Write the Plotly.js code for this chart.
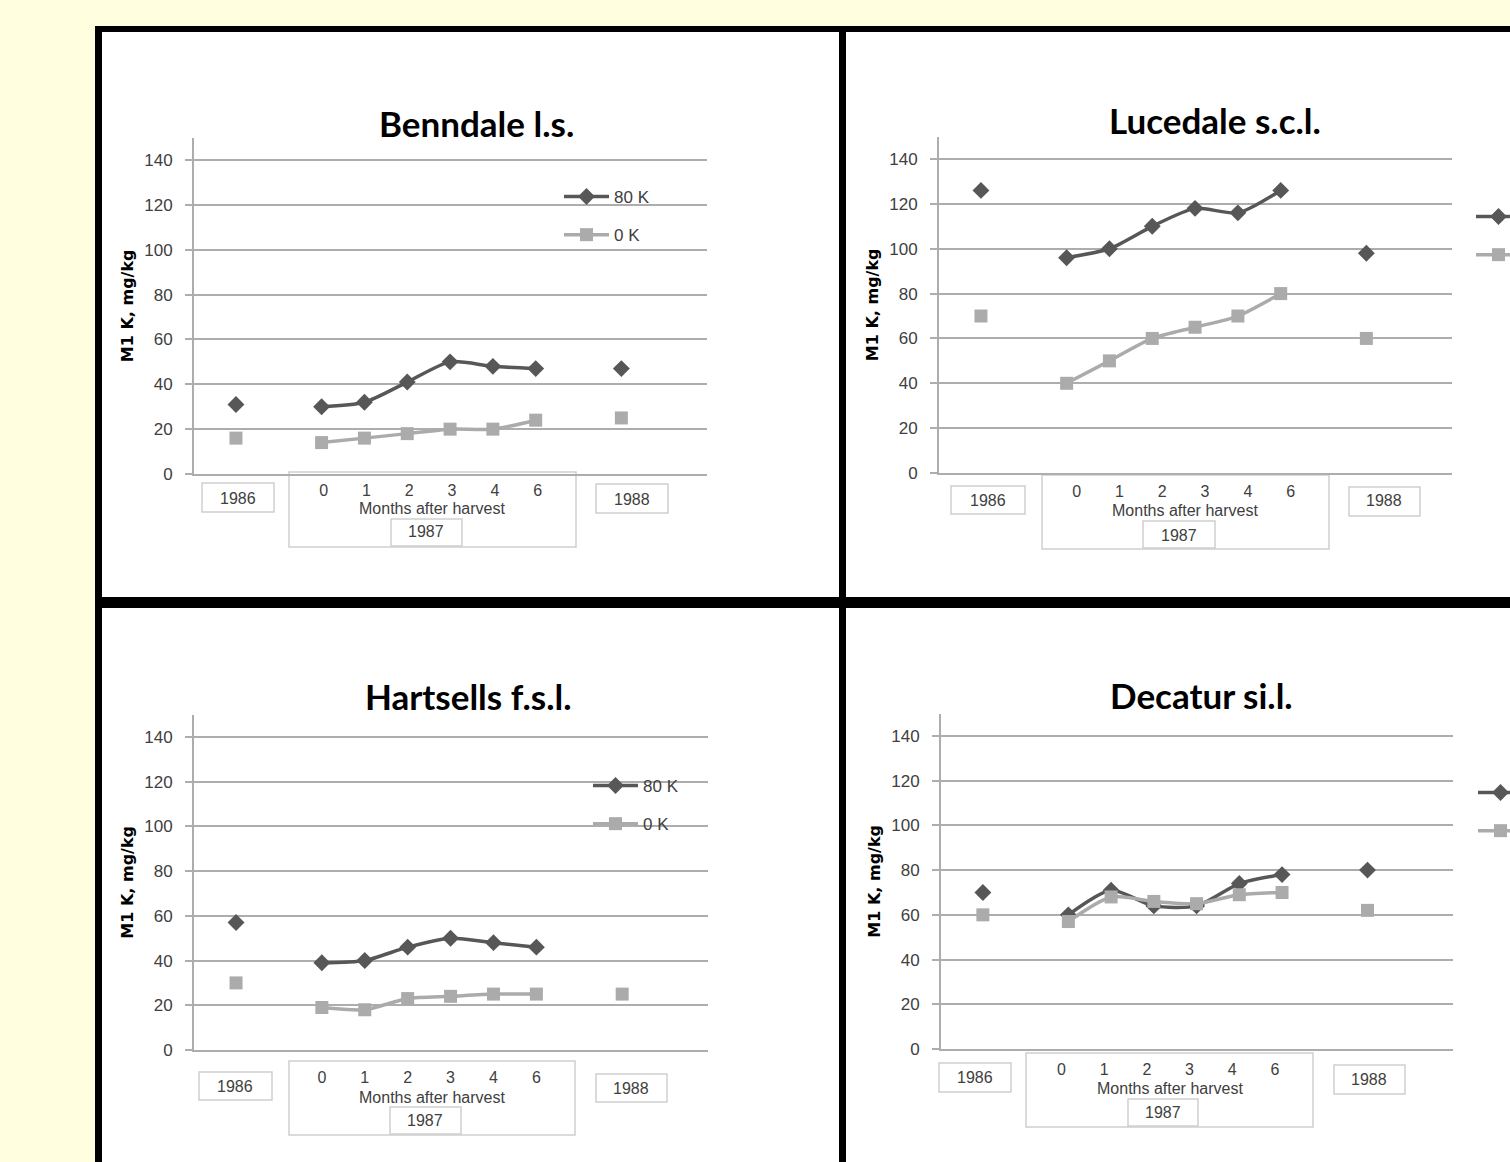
<!DOCTYPE html>
<html><head><meta charset="utf-8">
<script src="https://cdn.plot.ly/plotly-3.0.1.min.js"></script>
<style>html,body{margin:0;padding:0;background:#FFFFE0;}#chart{width:1510px;height:1162px;}</style>
</head><body><div id="chart"></div>
<script>
// ---------------- DATA ----------------
const soils = ['Benndale l.s.', 'Lucedale s.c.l.', 'Hartsells f.s.l.', 'Decatur si.l.'];
const seriesNames = ['80 K', '0 K'];
const monthLabels = ['0', '1', '2', '3', '4', '6'];
const yearLabels = ['1986', '1987', '1988'];
const xAxisLabel = 'Months after harvest';
const yAxisLabel = 'M1 K, mg/kg';
const yTicks = [0, 20, 40, 60, 80, 100, 120, 140];
// values: 1986, months 0,1,2,3,4,6 (1987), 1988
const benndale80K  = [31, 30, 32, 41, 50, 48, 47, 47];
const benndale0K   = [16, 14, 16, 18, 20, 20, 24, 25];
const lucedale80K  = [126, 96, 100, 110, 118, 116, 126, 98];
const lucedale0K   = [70, 40, 50, 60, 65, 70, 80, 60];
const hartsells80K = [57, 39, 40, 46, 50, 48, 46, null];
const hartsells0K  = [30, 19, 18, 23, 24, 25, 25, 25];
const decatur80K   = [70, 60, 71, 64, 64, 74, 78, 80];
const decatur0K    = [60, 57, 68, 66, 65, 69, 70, 62];
const soilSeries = [
  [benndale80K, benndale0K],
  [lucedale80K, lucedale0K],
  [hartsells80K, hartsells0K],
  [decatur80K, decatur0K]
];

// ---------------- LAYOUT GEOMETRY (pixels) ----------------
const W = 1510, H = 1162;
const px = v => v / W;
const py = v => 1 - v / H;
// category slots: 1986 | gap | months | gap | 1988
const slotX = [0, 1, 2, 3, 4, 5, 6, 7, 8, 9];
const monthSlots = [2, 3, 4, 5, 6, 7];
function expand(v) { return [v[0], null, v[1], v[2], v[3], v[4], v[5], v[6], null, v[7]]; }

const panels = [
  {x0: 194, x1: 707, yTop: 137.6, yBot: 474, title: [476, 123], lsStandoff: 1, lsShift: 2,
   legend: [569, 195], months: [432, 508], y1986: [238, 498], y1988: [632, 499], y1987: [426, 532],
   b1986: [202, 483, 274, 512], b1988: [596, 484, 668, 513], bOuter: [289, 472, 576, 547], bInner: [391, 519, 462, 546]},
  {x0: 939, x1: 1452, yTop: 136.6, yBot: 473, title: [1215, 120], lsStandoff: 3, lsShift: 10,
   legend: [1481, 215], months: [1185, 511], y1986: [988, 500], y1988: [1384, 501], y1987: [1179, 535],
   b1986: [951, 486, 1025, 514], b1988: [1349, 487, 1420, 516], bOuter: [1042, 475, 1329, 549], bInner: [1143, 521, 1215, 548]},
  {x0: 194, x1: 708, yTop: 714.6, yBot: 1050, title: [468, 696], lsStandoff: 12, lsShift: 0,
   legend: [598, 784], months: [432, 1097], y1986: [235, 1086], y1988: [631, 1088], y1987: [425, 1120],
   b1986: [199, 1072, 272, 1100], b1988: [596, 1074, 667, 1102], bOuter: [289, 1061, 575, 1135], bInner: [390, 1107, 461, 1134]},
  {x0: 941, x1: 1453, yTop: 713.6, yBot: 1049, title: [1201, 695], lsStandoff: 5, lsShift: -7,
   legend: [1483, 791], months: [1170, 1088], y1986: [975, 1077], y1988: [1369, 1079], y1987: [1163, 1112],
   b1986: [939, 1063, 1011, 1092], b1988: [1334, 1065, 1405, 1094], bOuter: [1026, 1053, 1313, 1127], bInner: [1128, 1099, 1198, 1126]}
];

const dark = '#575757', light = '#ABABAB', gridC = '#ADADAD', txt = '#404040';
const tickFont = {family: 'Liberation Sans, Arial, sans-serif', size: 16, color: txt};

const traces = [];
const layout = {
  width: W, height: H,
  margin: {l: 0, r: 0, t: 0, b: 0, autoexpand: false},
  paper_bgcolor: '#FFFFE0', plot_bgcolor: 'rgba(0,0,0,0)',
  showlegend: true, hovermode: false,
  shapes: [], annotations: []
};

// frame and white panels
layout.shapes.push({type: 'rect', xref: 'paper', yref: 'paper', x0: px(95), x1: px(1530), y0: py(26), y1: py(1180),
  fillcolor: '#000000', line: {width: 0}, layer: 'below'});
[[102, 32, 839, 597], [846, 32, 1530, 597], [102, 608, 839, 1180], [846, 608, 1530, 1180]].forEach(r => {
  layout.shapes.push({type: 'rect', xref: 'paper', yref: 'paper', x0: px(r[0]), x1: px(r[2]), y0: py(r[1]), y1: py(r[3]),
    fillcolor: '#FFFFFF', line: {width: 0}, layer: 'below'});
});

panels.forEach((p, i) => {
  const n = i === 0 ? '' : String(i + 1);
  const xa = 'xaxis' + n, ya = 'yaxis' + n, lg = 'legend' + n;
  layout[xa] = {
    domain: [px(p.x0), px(p.x1)], anchor: 'y' + n, range: [-0.98, 11.0],
    tickmode: 'array', tickvals: monthSlots, ticktext: monthLabels,
    ticks: '', showgrid: false, zeroline: false,
    showline: true, linecolor: gridC, linewidth: 2,
    tickfont: tickFont, ticklabelstandoff: p.lsStandoff, ticklabelshift: p.lsShift, fixedrange: true
  };
  layout[ya] = {
    domain: [py(p.yBot), py(p.yTop)], anchor: 'x' + n, range: [0, 150],
    tickmode: 'array', tickvals: yTicks,
    ticks: 'outside', ticklen: 7, tickwidth: 2, tickcolor: gridC,
    showgrid: true, gridcolor: gridC, gridwidth: 2, zeroline: false,
    showline: true, linecolor: gridC, linewidth: 2,
    tickfont: {family: 'Liberation Sans, Arial, sans-serif', size: 17, color: txt},
    ticklabelstandoff: 9,
    title: {text: yAxisLabel, font: {family: 'DejaVu Sans, sans-serif', size: 16, weight: 'bold', color: '#000'}, standoff: 7},
    fixedrange: true
  };
  layout[lg] = {
    x: px(p.legend[0] - 10), xanchor: 'left', y: py(p.legend[1] - 16), yanchor: 'top',
    bgcolor: 'rgba(0,0,0,0)', borderwidth: 0, traceorder: 'grouped', tracegroupgap: 13,
    itemwidth: 45,
    font: {family: 'Liberation Sans, Arial, sans-serif', size: 17, color: txt}
  };
  const vals = soilSeries[i];
  traces.push({
    type: 'scatter', mode: 'lines+markers', name: seriesNames[0], x: slotX, y: expand(vals[0]),
    xaxis: 'x' + n, yaxis: 'y' + n, legend: lg, legendgroup: 'a' + i, connectgaps: false,
    line: {color: dark, width: 3.5, shape: 'spline', smoothing: 0.7},
    marker: {symbol: 'diamond', size: 13, color: dark}
  });
  traces.push({
    type: 'scatter', mode: 'lines+markers', name: seriesNames[1], x: slotX, y: expand(vals[1]),
    xaxis: 'x' + n, yaxis: 'y' + n, legend: lg, legendgroup: 'b' + i, connectgaps: false,
    line: {color: light, width: 3.5, shape: 'spline', smoothing: 0.7},
    marker: {symbol: 'square', size: 13, color: light}
  });

  // category boxes
  [p.bOuter, p.bInner, p.b1986, p.b1988].forEach(b => {
    layout.shapes.push({type: 'rect', xref: 'paper', yref: 'paper', x0: px(b[0]), x1: px(b[2]), y0: py(b[1]), y1: py(b[3]),
      fillcolor: 'rgba(255,255,255,0)', line: {color: '#CFCFCF', width: 1.5}, layer: 'below'});
  });
  const ann = (pos, text, font) => layout.annotations.push({xref: 'paper', yref: 'paper', x: px(pos[0]), y: py(pos[1]),
    xanchor: 'center', yanchor: 'middle', text: text, showarrow: false, font: font});
  ann(p.title, soils[i], {family: 'Lato, Open Sans, sans-serif', size: 35, weight: 'bold', color: '#000'});
  ann(p.months, xAxisLabel, tickFont);
  ann(p.y1986, yearLabels[0], tickFont);
  ann(p.y1987, yearLabels[1], tickFont);
  ann(p.y1988, yearLabels[2], tickFont);
});

Plotly.newPlot('chart', traces, layout, {displayModeBar: false, staticPlot: true});
</script>
</body></html>
